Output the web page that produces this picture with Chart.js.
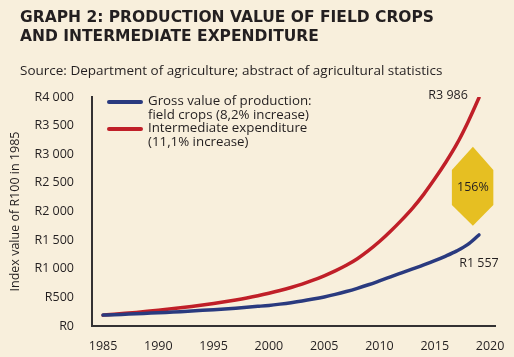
<!DOCTYPE html>
<html>
<head>
<meta charset="utf-8">
<script src="https://cdn.jsdelivr.net/npm/chart.js@4.4.1/dist/chart.umd.min.js"></script>
<style>
  html, body { margin: 0; padding: 0; background: #f8efdc; }
  #wrap { position: relative; width: 514px; height: 357px; overflow: hidden; background: #f8efdc; font-family: "Open Sans", Lato, sans-serif; color: #231f20; }
  #title { position: absolute; left: 20px; top: 8px; font-family: "DejaVu Sans", sans-serif; font-weight: 700; font-size: 15.5px; line-height: 18.5px; }
  #source { position: absolute; left: 20px; top: 62px; font-size: 13.5px; line-height: 16px; }
  #legend { position: absolute; left: 107px; top: 94px; font-size: 13.3px; line-height: 13.5px; }
  .item { position: relative; padding-left: 41px; }
  .sw { position: absolute; left: 0; top: 6px; width: 36px; height: 4px; border-radius: 2px; }
  canvas { position: absolute; left: 0; top: 0; }
</style>
</head>
<body>
<div id="wrap">
  <canvas id="c" width="514" height="357"></canvas>
  <div id="title">GRAPH 2: PRODUCTION VALUE OF FIELD CROPS<br>AND INTERMEDIATE EXPENDITURE</div>
  <div id="source">Source: Department of agriculture; abstract of agricultural statistics</div>
  <div id="legend"></div>
</div>
<script>
const years = [1985,1986,1987,1988,1989,1990,1991,1992,1993,1994,1995,1996,1997,1998,1999,2000,2001,2002,2003,2004,2005,2006,2007,2008,2009,2010,2011,2012,2013,2014,2015,2016,2017,2018,2019];
const grossValue = [190,197,205,213,222,231,241,251,262,273,285,298,312,327,343,360,382,407,436,470,508,552,602,658,720,788,858,928,998,1068,1142,1222,1312,1425,1590];
const intermediateExp = [190,205,221,238,256,275,295,317,341,366,393,422,454,489,528,572,620,673,732,800,877,962,1060,1175,1315,1475,1655,1850,2060,2300,2570,2860,3180,3560,3986];
const seriesNames = [["Gross value of production:", "field crops (8,2% increase)"], ["Intermediate expenditure", "(11,1% increase)"]];
const seriesColors = ["#2a3a7f", "#c01f28"];
const xTickValues = [1985,1990,1995,2000,2005,2010,2015,2020];
const yTickValues = [0,500,1000,1500,2000,2500,3000,3500,4000];
const yTickLabels = ["R0","R500","R1 000","R1 500","R2 000","R2 500","R3 000","R3 500","R4 000"];
const endLabels = ["R1 557", "R3 986"];
const badgeText = "156%";

const leg = document.getElementById('legend');
seriesNames.forEach((lines, i) => {
  const d = document.createElement('div');
  d.className = 'item';
  d.innerHTML = '<span class="sw" style="background:' + seriesColors[i] + '"></span>' + lines.join('<br>');
  leg.appendChild(d);
});

const FONT = "'Open Sans', Lato, sans-serif";
const annot = {
  id: 'annot',
  afterDatasetsDraw(chart) {
    const ctx = chart.ctx;
    const xs = chart.scales.x, ys = chart.scales.y;
    ctx.save();
    const xl = xs.getPixelForValue(2016.55), xm = xs.getPixelForValue(2018.45), xr = xs.getPixelForValue(2020.3);
    const yt = ys.getPixelForValue(3130), yu = ys.getPixelForValue(2725), yd = ys.getPixelForValue(2113), yb = ys.getPixelForValue(1752);
    ctx.fillStyle = '#e6bf22';
    ctx.beginPath();
    ctx.moveTo(xm, yt); ctx.lineTo(xr, yu); ctx.lineTo(xr, yd); ctx.lineTo(xm, yb); ctx.lineTo(xl, yd); ctx.lineTo(xl, yu); ctx.closePath();
    ctx.fill();
    ctx.fillStyle = '#231f20';
    ctx.font = '12.5px ' + FONT;
    ctx.textAlign = 'center'; ctx.textBaseline = 'middle';
    ctx.fillText(badgeText, xm, (yu + yd) / 2);
    ctx.textAlign = 'right';
    ctx.fillText(endLabels[1], xs.getPixelForValue(2018.0), ys.getPixelForValue(4000) - 2);
    ctx.textAlign = 'center';
    ctx.fillText(endLabels[0], xs.getPixelForValue(2019.0), ys.getPixelForValue(1100));
    ctx.restore();
  }
};

new Chart(document.getElementById('c'), {
  type: 'line',
  data: {
    labels: years,
    datasets: [
      { label: seriesNames[0].join(' '), data: years.map((y, i) => ({x: y, y: grossValue[i]})), borderColor: seriesColors[0], borderWidth: 3.5, pointRadius: 0, cubicInterpolationMode: 'monotone', fill: false, borderCapStyle: 'round' },
      { label: seriesNames[1].join(' '), data: years.map((y, i) => ({x: y, y: intermediateExp[i]})), borderColor: seriesColors[1], borderWidth: 3.5, pointRadius: 0, cubicInterpolationMode: 'monotone', fill: false, borderCapStyle: 'round' }
    ]
  },
  options: {
    responsive: false,
    animation: false,
    events: [],
    layout: { padding: { left: 0, top: 97, right: 19, bottom: 0 } },
    plugins: { legend: { display: false }, tooltip: { enabled: false } },
    scales: {
      x: {
        type: 'linear', min: 1984, max: 2020.45,
        afterBuildTicks(s) { s.ticks = xTickValues.map(v => ({value: v})); },
        afterFit(s) { s.height = 31; },
        grid: { display: false },
        border: { display: true, color: '#333132', width: 2 },
        ticks: { color: '#231f20', font: { family: FONT, size: 12.5 }, padding: 5, maxRotation: 0, autoSkip: false, callback: v => String(v) }
      },
      y: {
        min: 0, max: 4000,
        afterBuildTicks(s) { s.ticks = yTickValues.map(v => ({value: v})); },
        afterFit(s) { s.width = 92; },
        grid: { display: false },
        border: { display: true, color: '#333132', width: 2 },
        ticks: { color: '#231f20', font: { family: FONT, size: 12.5 }, padding: 10, autoSkip: false, callback: (v) => yTickLabels[yTickValues.indexOf(v)] },
        title: { display: true, text: 'Index value of R100 in 1985', color: '#231f20', font: { family: FONT, size: 12.5 }, padding: { top: 8, bottom: 0 } }
      }
    }
  },
  plugins: [annot]
});
</script>
</body>
</html>
